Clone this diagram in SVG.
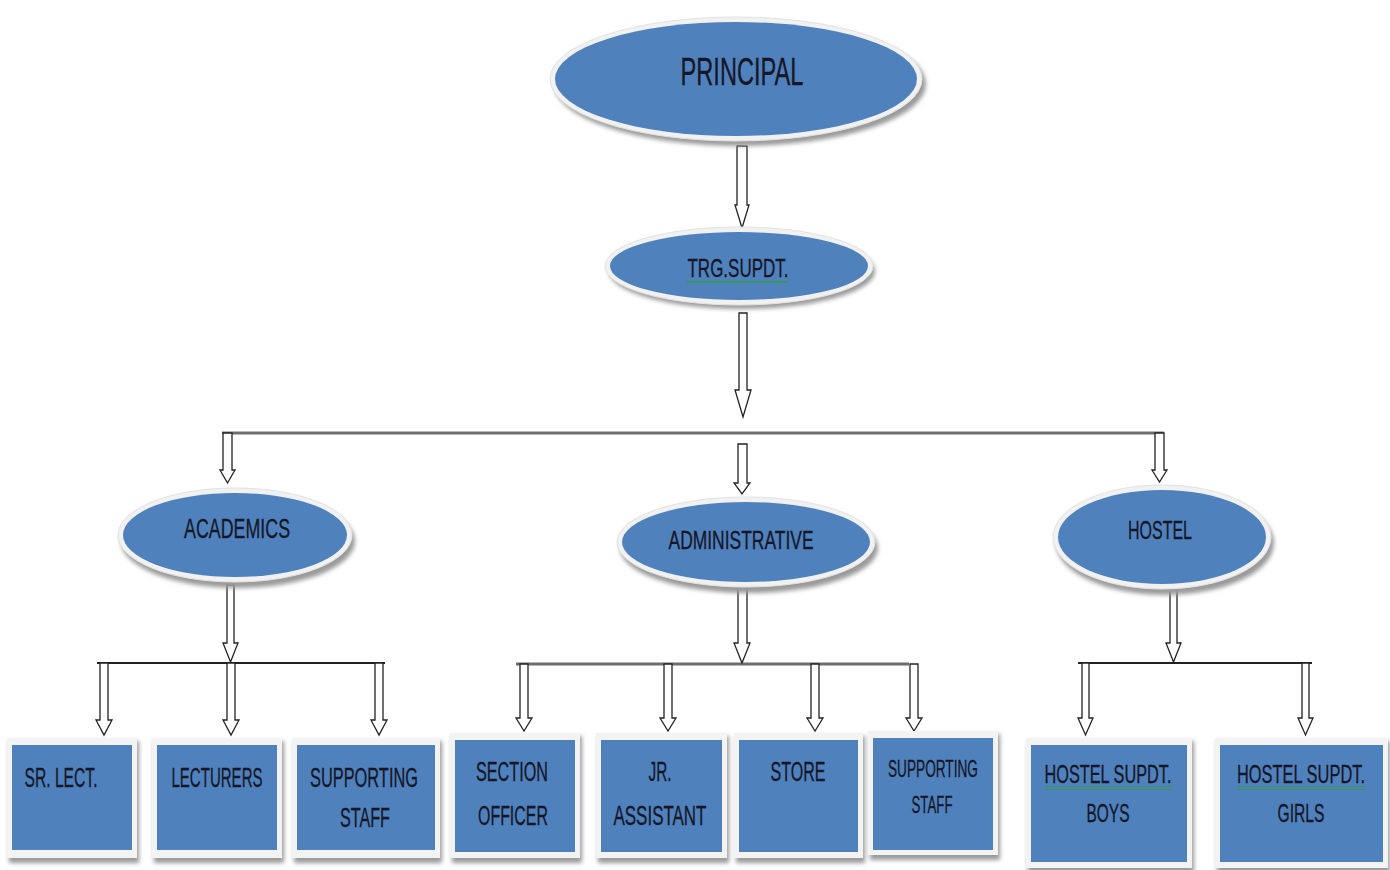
<svg xmlns="http://www.w3.org/2000/svg" width="1390" height="870" viewBox="0 0 1390 870">
<defs>
<filter id="blur" x="-10%" y="-10%" width="120%" height="130%"><feGaussianBlur stdDeviation="2"/></filter>
<pattern id="wave" width="4" height="4" patternUnits="userSpaceOnUse"><path d="M0 3 L1 1 L2 3 L3 1 L4 3" fill="none" stroke="#2e9c3a" stroke-width="0.9"/></pattern>
</defs>
<style>
.shadow{fill:#9a9a9a;filter:url(#blur)}
.ring{fill:#f1f1f1;stroke:#e2e2e2;stroke-width:1}
.blue{fill:#4f81bd}
.frame{fill:#f3f3f3}
.t{font-family:"Liberation Sans",Arial,sans-serif;fill:#161626;text-anchor:middle;stroke:#161626;stroke-width:0.3}
.arrow{fill:#ffffff;stroke:#222222;stroke-width:1.3;stroke-linejoin:miter}
.bar{stroke:#6e6e6e;stroke-width:3;fill:none}
.bar2{stroke:#222222;stroke-width:2;fill:none}
.wv{fill:url(#wave)}
</style>
<rect width="1390" height="870" fill="#ffffff"/>

<g id="connectors">
<line class="bar" x1="222" y1="433" x2="1164" y2="433"/>
<line class="bar2" x1="97" y1="663" x2="385" y2="663"/>
<line class="bar" x1="516" y1="664" x2="909" y2="664"/>
<line class="bar2" x1="1078" y1="663" x2="1312" y2="663"/>
<path class="arrow" d="M737 146 H747 V205 H749 L742 228 L735 205 H737 Z"/>
<path class="arrow" d="M739 313 H747 V390 H751 L743 417 L735 390 H739 Z"/>
<path class="arrow" d="M223 433 H232 V470 H235 L227.5 483 L220 470 H223 Z"/>
<path class="arrow" d="M738 444 H747 V483 H750 L742 494 L734 483 H738 Z"/>
<path class="arrow" d="M1155 433 H1164 V470 H1167 L1159.5 482 L1152 470 H1155 Z"/>
<path class="arrow" d="M227 585 H234 V643 H238 L230.5 662 L223 643 H227 Z"/>
<path class="arrow" d="M738 587 H747 V643 H750 L742 663 L734 643 H738 Z"/>
<path class="arrow" d="M1170 587 H1177 V643 H1181 L1173.5 662 L1166 643 H1170 Z"/>
<path class="arrow" d="M100 663 H108 V720 H112 L104 735 L96 720 H100 Z"/>
<path class="arrow" d="M227 663 H235 V720 H239 L231 735 L223 720 H227 Z"/>
<path class="arrow" d="M375 663 H383 V720 H387 L379 735 L371 720 H375 Z"/>
<path class="arrow" d="M520 664 H528 V718 H532 L524 731 L516 718 H520 Z"/>
<path class="arrow" d="M664 664 H672 V718 H676 L668 731 L660 718 H664 Z"/>
<path class="arrow" d="M811 664 H819 V718 H823 L815 731 L807 718 H811 Z"/>
<path class="arrow" d="M910 664 H918 V718 H922 L914 731 L906 718 H910 Z"/>
<path class="arrow" d="M1082 663 H1089 V718 H1093 L1085.5 735 L1078 718 H1082 Z"/>
<path class="arrow" d="M1302 663 H1309 V718 H1313 L1305.5 735 L1298 718 H1302 Z"/>
</g>

<g id="principal">
<ellipse class="shadow" cx="740" cy="84" rx="186" ry="62"/>
<ellipse class="ring" cx="736" cy="79" rx="186" ry="62"/>
<ellipse class="blue" cx="736" cy="79" rx="181" ry="57"/>
<text class="t" transform="scale(0.62,1)" x="1196.8" y="85" font-size="39" textLength="198.4" lengthAdjust="spacingAndGlyphs">PRINCIPAL</text>
</g>

<g id="trg">
<ellipse class="shadow" cx="742" cy="271" rx="133" ry="38"/>
<ellipse class="ring" cx="739" cy="266" rx="134" ry="39"/>
<ellipse class="blue" cx="739" cy="266" rx="129" ry="34"/>
<text class="t" transform="scale(0.62,1)" x="1190.3" y="277" font-size="26" textLength="162.9" lengthAdjust="spacingAndGlyphs">TRG.SUPDT.</text>
<rect class="wv" x="687" y="281" width="101" height="4"/>
</g>

<g id="academics">
<ellipse class="shadow" cx="238" cy="541" rx="117" ry="47"/>
<ellipse class="ring" cx="235" cy="535" rx="117" ry="47"/>
<ellipse class="blue" cx="235" cy="535" rx="112" ry="42"/>
<text class="t" transform="scale(0.62,1)" x="382.3" y="538" font-size="28" textLength="171" lengthAdjust="spacingAndGlyphs">ACADEMICS</text>
</g>

<g id="administrative">
<ellipse class="shadow" cx="749" cy="548" rx="129" ry="45"/>
<ellipse class="ring" cx="746" cy="542" rx="129" ry="45"/>
<ellipse class="blue" cx="746" cy="542" rx="124" ry="40"/>
<text class="t" transform="scale(0.62,1)" x="1195.2" y="549" font-size="26" textLength="233.9" lengthAdjust="spacingAndGlyphs">ADMINISTRATIVE</text>
</g>

<g id="hostel">
<ellipse class="shadow" cx="1165" cy="543" rx="109" ry="52"/>
<ellipse class="ring" cx="1162" cy="537" rx="109" ry="52"/>
<ellipse class="blue" cx="1162" cy="537" rx="104" ry="47"/>
<text class="t" transform="scale(0.62,1)" x="1871" y="539" font-size="26" textLength="103.2" lengthAdjust="spacingAndGlyphs">HOSTEL</text>
</g>

<g id="sr-lect">
<rect class="shadow" x="9" y="741" width="130" height="122"/>
<rect class="frame" x="7" y="738" width="130" height="120"/>
<rect class="blue" x="12" y="745" width="120" height="105"/>
<text class="t" transform="scale(0.62,1)" x="98.4" y="787" font-size="28" textLength="117.7" lengthAdjust="spacingAndGlyphs">SR. LECT.</text>
</g>

<g id="lecturers">
<rect class="shadow" x="154" y="741" width="130" height="122"/>
<rect class="frame" x="152" y="738" width="130" height="120"/>
<rect class="blue" x="157" y="745" width="120" height="105"/>
<text class="t" transform="scale(0.62,1)" x="350" y="787" font-size="28" textLength="146.8" lengthAdjust="spacingAndGlyphs">LECTURERS</text>
</g>

<g id="supporting-staff-1">
<rect class="shadow" x="294" y="741" width="148" height="122"/>
<rect class="frame" x="292" y="738" width="148" height="120"/>
<rect class="blue" x="297" y="745" width="138" height="105"/>
<text class="t" transform="scale(0.62,1)" x="587.1" y="787" font-size="28" textLength="174.2" lengthAdjust="spacingAndGlyphs">SUPPORTING</text>
<text class="t" transform="scale(0.62,1)" x="588.7" y="827" font-size="28" textLength="80.6" lengthAdjust="spacingAndGlyphs">STAFF</text>
</g>

<g id="section-officer">
<rect class="shadow" x="452" y="736" width="130" height="127"/>
<rect class="frame" x="450" y="733" width="130" height="125"/>
<rect class="blue" x="455" y="740" width="120" height="112"/>
<text class="t" transform="scale(0.62,1)" x="825.8" y="781" font-size="27" textLength="116.1" lengthAdjust="spacingAndGlyphs">SECTION</text>
<text class="t" transform="scale(0.62,1)" x="827.4" y="825" font-size="27" textLength="112.9" lengthAdjust="spacingAndGlyphs">OFFICER</text>
</g>

<g id="jr-assistant">
<rect class="shadow" x="598" y="736" width="131" height="127"/>
<rect class="frame" x="596" y="733" width="131" height="125"/>
<rect class="blue" x="601" y="740" width="121" height="112"/>
<text class="t" transform="scale(0.62,1)" x="1064.5" y="781" font-size="27" textLength="37.1" lengthAdjust="spacingAndGlyphs">JR.</text>
<text class="t" transform="scale(0.62,1)" x="1064.5" y="825" font-size="27" textLength="150" lengthAdjust="spacingAndGlyphs">ASSISTANT</text>
</g>

<g id="store">
<rect class="shadow" x="736" y="736" width="129" height="127"/>
<rect class="frame" x="734" y="733" width="129" height="125"/>
<rect class="blue" x="739" y="740" width="119" height="112"/>
<text class="t" transform="scale(0.62,1)" x="1287.1" y="781" font-size="27" textLength="88.7" lengthAdjust="spacingAndGlyphs">STORE</text>
</g>

<g id="supporting-staff-2">
<rect class="shadow" x="870" y="734" width="130" height="126"/>
<rect class="frame" x="868" y="731" width="130" height="124"/>
<rect class="blue" x="873" y="738" width="120" height="112"/>
<text class="t" transform="scale(0.62,1)" x="1504.8" y="777" font-size="24" textLength="145.2" lengthAdjust="spacingAndGlyphs">SUPPORTING</text>
<text class="t" transform="scale(0.62,1)" x="1503.2" y="813" font-size="24" textLength="66.1" lengthAdjust="spacingAndGlyphs">STAFF</text>
</g>

<g id="hostel-supdt-boys">
<rect class="shadow" x="1028" y="741" width="166" height="132"/>
<rect class="frame" x="1026" y="738" width="166" height="130"/>
<rect class="blue" x="1031" y="745" width="156" height="117"/>
<text class="t" transform="scale(0.62,1)" x="1787.1" y="783" font-size="26" textLength="204.8" lengthAdjust="spacingAndGlyphs">HOSTEL SUPDT.</text>
<rect class="wv" x="1045" y="786" width="127" height="4"/>
<text class="t" transform="scale(0.62,1)" x="1787.1" y="822" font-size="26" textLength="69.4" lengthAdjust="spacingAndGlyphs">BOYS</text>
</g>

<g id="hostel-supdt-girls">
<rect class="shadow" x="1217" y="741" width="173" height="132"/>
<rect class="frame" x="1215" y="738" width="173" height="130"/>
<rect class="blue" x="1220" y="745" width="163" height="117"/>
<text class="t" transform="scale(0.62,1)" x="2098.4" y="783" font-size="26" textLength="206.5" lengthAdjust="spacingAndGlyphs">HOSTEL SUPDT.</text>
<rect class="wv" x="1237" y="786" width="128" height="4"/>
<text class="t" transform="scale(0.62,1)" x="2098.4" y="822" font-size="26" textLength="75.8" lengthAdjust="spacingAndGlyphs">GIRLS</text>
</g>
</svg>
